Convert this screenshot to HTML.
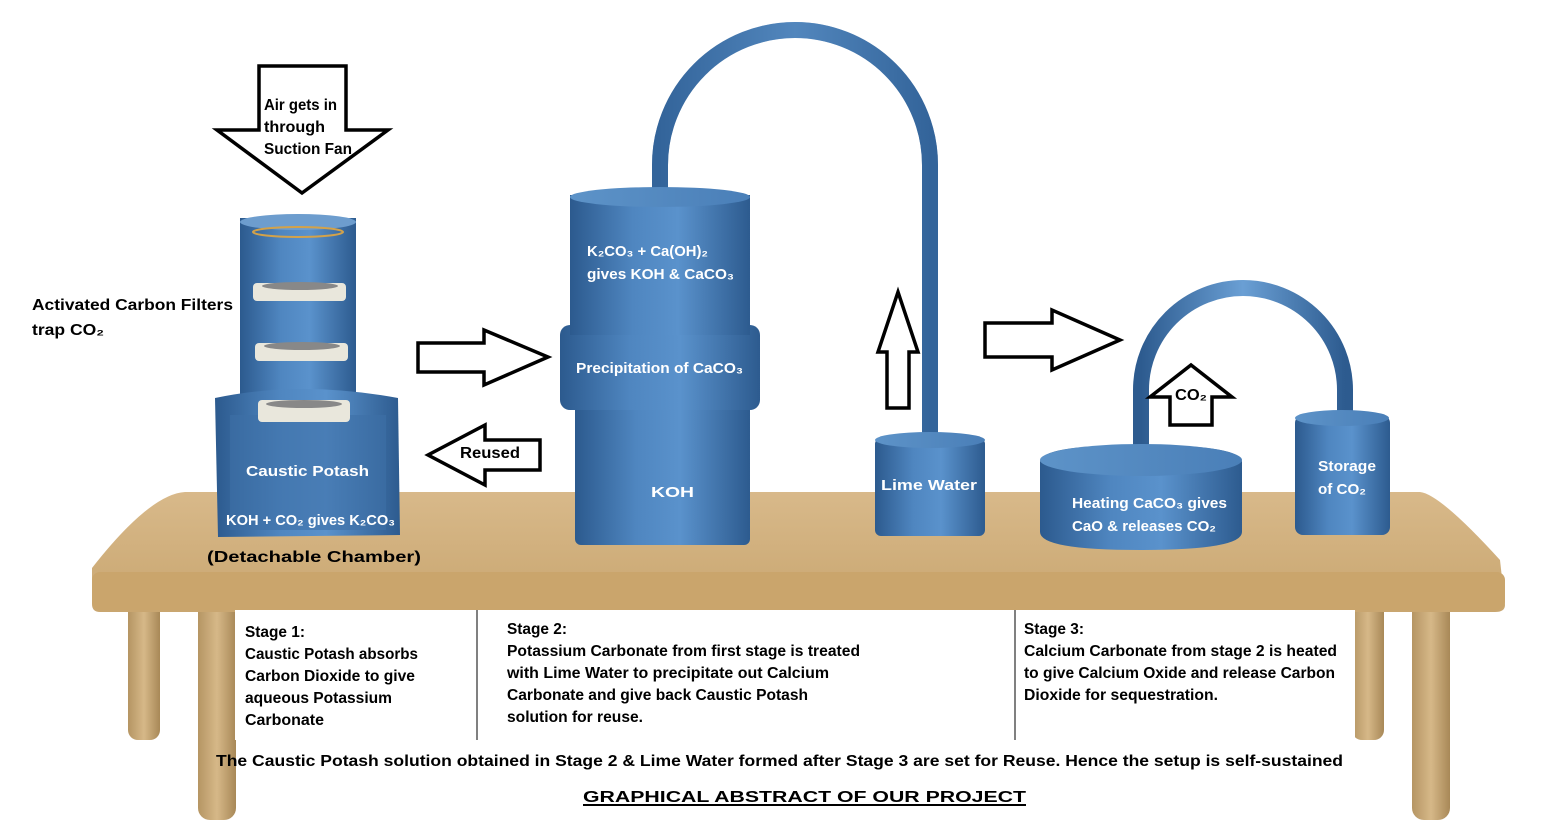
<!DOCTYPE html>
<html><head><meta charset="utf-8"><style>
html,body{margin:0;padding:0;background:#fff;}
svg{display:block;font-family:"Liberation Sans",sans-serif;}
.w{fill:#fff;font-weight:bold;font-size:15px;}
.b{fill:#000;font-weight:bold;font-size:16px;}
.ar{fill:#fff;stroke:#000;stroke-width:3.5;stroke-linejoin:miter;}
</style></head><body>
<svg width="1553" height="825" viewBox="0 0 1553 825">
<defs>
<linearGradient id="cyl" x1="0" x2="1" y1="0" y2="0">
<stop offset="0" stop-color="#2c5a8e"/><stop offset="0.35" stop-color="#4f86c0"/><stop offset="0.6" stop-color="#5a92cc"/><stop offset="1" stop-color="#2d5b8f"/></linearGradient>
<linearGradient id="top" x1="0" x2="1"><stop offset="0" stop-color="#5d93c8"/><stop offset="1" stop-color="#4a7fb8"/></linearGradient>
<linearGradient id="wood" x1="0" x2="0" y1="0" y2="1"><stop offset="0" stop-color="#d8b98a"/><stop offset="1" stop-color="#c9a670"/></linearGradient>
<linearGradient id="leg" x1="0" x2="1"><stop offset="0" stop-color="#b59563"/><stop offset="0.5" stop-color="#d6b888"/><stop offset="1" stop-color="#a88857"/></linearGradient>
<linearGradient id="pipe" x1="0" x2="1"><stop offset="0" stop-color="#2d5b8f"/><stop offset="0.5" stop-color="#6a9fd4"/><stop offset="1" stop-color="#2d5b8f"/></linearGradient>
</defs>

<rect x="128" y="590" width="32" height="150" rx="10" fill="url(#leg)"/>
<rect x="198" y="590" width="38" height="230" rx="12" fill="url(#leg)"/>
<rect x="1352" y="590" width="32" height="150" rx="10" fill="url(#leg)"/>
<rect x="1412" y="590" width="38" height="230" rx="12" fill="url(#leg)"/>
<path d="M185,492 L1420,492 Q1440,494 1500,560 L1505,605 Q1505,612 1495,612 L100,612 Q92,612 92,604 L92,568 Q150,494 185,492 Z" fill="url(#wood)"/>
<rect x="92" y="572" width="1413" height="38" rx="8" fill="#caa56c"/>

<rect x="235" y="610" width="1120" height="130" fill="#fff"/>
<line x1="477" y1="610" x2="477" y2="740" stroke="#000" stroke-width="1"/>
<line x1="1015" y1="610" x2="1015" y2="740" stroke="#000" stroke-width="1"/>

<rect x="240" y="218" width="116" height="180" fill="url(#cyl)"/>
<ellipse cx="298" cy="222" rx="58" ry="8" fill="#6d9dce"/>
<ellipse cx="298" cy="232" rx="45" ry="5" fill="none" stroke="#d3a24a" stroke-width="2"/>
<path d="M215,398 Q300,380 398,398 L400,535 L218,537 Z" fill="url(#cyl)"/>
<rect x="230" y="415" width="156" height="115" fill="#3d6fa6" opacity="0.6"/>
<g fill="#e9e7dc"><rect x="253" y="283" width="93" height="18" rx="4"/><rect x="255" y="343" width="93" height="18" rx="4"/><rect x="258" y="400" width="92" height="22" rx="4"/></g>
<g fill="#888"><ellipse cx="300" cy="286" rx="38" ry="4"/><ellipse cx="302" cy="346" rx="38" ry="4"/><ellipse cx="304" cy="404" rx="38" ry="4"/></g>
<text class="w" x="246" y="476" font-size="18" textLength="123" lengthAdjust="spacingAndGlyphs">Caustic Potash</text>
<text class="w" x="226" y="525" font-size="15" textLength="169" lengthAdjust="spacingAndGlyphs">KOH + CO₂ gives K₂CO₃</text>

<path d="M660,205 L660,165 A135,135 0 0 1 930,165 L930,445" fill="none" stroke="url(#pipe)" stroke-width="16"/>
<path d="M660,205 L660,165 A135,135 0 0 1 930,165 L930,445" fill="none" stroke="#3a6da5" stroke-width="16" opacity="0.5"/>
<rect x="575" y="400" width="175" height="145" rx="6" fill="url(#cyl)"/>
<rect x="560" y="325" width="200" height="85" rx="10" fill="url(#cyl)"/>
<rect x="570" y="195" width="180" height="140" fill="url(#cyl)"/>
<ellipse cx="660" cy="197" rx="90" ry="10" fill="url(#top)"/>
<text class="w" x="587" y="256" font-size="15" textLength="121" lengthAdjust="spacingAndGlyphs">K₂CO₃ + Ca(OH)₂</text>
<text class="w" x="587" y="279" font-size="15" textLength="147" lengthAdjust="spacingAndGlyphs">gives KOH &amp;  CaCO₃</text>
<text class="w" x="576" y="373" font-size="15" textLength="167" lengthAdjust="spacingAndGlyphs">Precipitation of CaCO₃</text>
<text class="w" x="651" y="497" font-size="20" textLength="43" lengthAdjust="spacingAndGlyphs">KOH</text>

<rect x="875" y="438" width="110" height="98" rx="6" fill="url(#cyl)"/>
<ellipse cx="930" cy="440" rx="55" ry="8" fill="url(#top)"/>
<text class="w" x="881" y="490" font-size="17" textLength="96" lengthAdjust="spacingAndGlyphs">Lime Water</text>

<path d="M1141,465 L1141,390 A102,102 0 0 1 1345,390 L1345,425" fill="none" stroke="url(#pipe)" stroke-width="16"/>
<path d="M1040,462 Q1040,445 1140,445 Q1242,445 1242,462 L1242,532 Q1242,550 1140,550 Q1040,550 1040,532 Z" fill="url(#cyl)"/>
<ellipse cx="1141" cy="460" rx="101" ry="16" fill="url(#top)"/>
<text class="w" x="1072" y="508" font-size="15" textLength="155" lengthAdjust="spacingAndGlyphs">Heating CaCO₃  gives</text>
<text class="w" x="1072" y="531" font-size="15" textLength="144" lengthAdjust="spacingAndGlyphs">CaO &amp; releases CO₂</text>
<rect x="1295" y="415" width="95" height="120" rx="8" fill="url(#cyl)"/>
<ellipse cx="1342" cy="418" rx="47" ry="8" fill="url(#top)"/>
<text class="w" x="1318" y="471" font-size="15" textLength="58" lengthAdjust="spacingAndGlyphs">Storage</text>
<text class="w" x="1318" y="494" font-size="15" textLength="48" lengthAdjust="spacingAndGlyphs">of CO₂</text>

<polygon class="ar" points="259,66 346,66 346,130 388,130 302,193 217,130 259,130"/>
<text class="b" x="264" y="110" textLength="73" lengthAdjust="spacingAndGlyphs">Air gets in</text>
<text class="b" x="264" y="132" textLength="61" lengthAdjust="spacingAndGlyphs">through</text>
<text class="b" x="264" y="154" textLength="88" lengthAdjust="spacingAndGlyphs">Suction Fan</text>
<polygon class="ar" points="418,343 484,343 484,330 548,357 484,385 484,372 418,372"/>
<polygon class="ar" points="540,440 485,440 485,425 428,455 485,485 485,470 540,470"/>
<text class="b" x="460" y="458" font-size="17" textLength="60" lengthAdjust="spacingAndGlyphs">Reused</text>
<polygon class="ar" points="887,408 887,352 878,352 898,292 918,352 909,352 909,408"/>
<polygon class="ar" points="985,323 1052,323 1052,310 1120,340 1052,370 1052,357 985,357"/>
<polygon class="ar" points="1170,425 1170,397 1150,397 1191,365 1232,397 1212,397 1212,425"/>
<text class="b" x="1175" y="400" font-size="16" textLength="32" lengthAdjust="spacingAndGlyphs">CO₂</text>

<text class="b" x="32" y="310" font-size="17" textLength="201" lengthAdjust="spacingAndGlyphs">Activated Carbon Filters</text>
<text class="b" x="32" y="335" font-size="17" textLength="72" lengthAdjust="spacingAndGlyphs">trap CO₂</text>
<text class="b" x="207" y="562" font-size="21" textLength="214" lengthAdjust="spacingAndGlyphs">(Detachable Chamber)</text>

<g>
<text class="b" x="245" y="637" textLength="60" lengthAdjust="spacingAndGlyphs">Stage 1:</text>
<text class="b" x="245" y="659" textLength="173" lengthAdjust="spacingAndGlyphs">Caustic Potash absorbs</text>
<text class="b" x="245" y="681" textLength="170" lengthAdjust="spacingAndGlyphs">Carbon Dioxide to give</text>
<text class="b" x="245" y="703" textLength="147" lengthAdjust="spacingAndGlyphs">aqueous Potassium</text>
<text class="b" x="245" y="725" textLength="79" lengthAdjust="spacingAndGlyphs">Carbonate</text>
<text class="b" x="507" y="634" textLength="60" lengthAdjust="spacingAndGlyphs">Stage 2:</text>
<text class="b" x="507" y="656" textLength="353" lengthAdjust="spacingAndGlyphs">Potassium Carbonate from first stage is treated</text>
<text class="b" x="507" y="678" textLength="322" lengthAdjust="spacingAndGlyphs">with Lime Water to precipitate out Calcium</text>
<text class="b" x="507" y="700" textLength="301" lengthAdjust="spacingAndGlyphs">Carbonate and give back Caustic Potash</text>
<text class="b" x="507" y="722" textLength="136" lengthAdjust="spacingAndGlyphs">solution for reuse.</text>
<text class="b" x="1024" y="634" textLength="60" lengthAdjust="spacingAndGlyphs">Stage 3:</text>
<text class="b" x="1024" y="656" textLength="313" lengthAdjust="spacingAndGlyphs">Calcium Carbonate from stage 2 is heated</text>
<text class="b" x="1024" y="678" textLength="311" lengthAdjust="spacingAndGlyphs">to give Calcium Oxide and release Carbon</text>
<text class="b" x="1024" y="700" textLength="194" lengthAdjust="spacingAndGlyphs">Dioxide for sequestration.</text>
</g>
<text class="b" x="216" y="766" font-size="19" textLength="1127" lengthAdjust="spacingAndGlyphs">The Caustic Potash solution obtained in Stage 2 &amp; Lime Water formed after Stage 3 are set for Reuse. Hence the setup is self-sustained</text>
<text class="b" x="583" y="802" font-size="24" textLength="443" lengthAdjust="spacingAndGlyphs">GRAPHICAL ABSTRACT OF OUR PROJECT</text>
<line x1="583" y1="805" x2="1026" y2="805" stroke="#000" stroke-width="2"/>
</svg>
</body></html>
